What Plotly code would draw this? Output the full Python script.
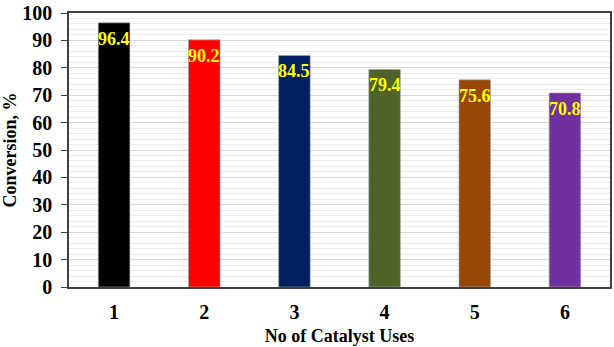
import plotly.graph_objects as go

categories = ["1", "2", "3", "4", "5", "6"]
values = [96.4, 90.2, 84.5, 79.4, 75.6, 70.8]
colors = ["#000000", "#FF0000", "#002060", "#4F6228", "#974706", "#7030A0"]
labels = ["96.4", "90.2", "84.5", "79.4", "75.6", "70.8"]
y_ticks = [0, 10, 20, 30, 40, 50, 60, 70, 80, 90, 100]
y_ticktext = ["<b>%d</b>" % v for v in y_ticks]
x_ticktext = ["<b>%s</b>" % c for c in categories]

FONT = "Liberation Serif"

fig = go.Figure()
fig.add_trace(go.Bar(
    x=categories, y=values,
    marker=dict(color=colors, line=dict(color="#A6A6A6", width=0.6)),
    width=0.35,
    hoverinfo="x+y",
))

for i, (v, t) in enumerate(zip(values, labels)):
    fig.add_annotation(
        x=i, y=v, xref="x", yref="y", text="<b>%s</b>" % t, showarrow=False,
        yanchor="top", yshift=-4,
        font=dict(family=FONT, size=18, color="#FFFF00"),
    )

fig.update_layout(
    width=614, height=347,
    margin=dict(l=69, r=2, t=7, b=60),
    plot_bgcolor="white", paper_bgcolor="white",
    showlegend=False,
    font=dict(family=FONT, color="black"),
)
fig.update_xaxes(
    type="category",
    showline=True, linecolor="#404040", linewidth=1.5, mirror=True,
    ticks="", tickmode="array", tickvals=categories, ticktext=x_ticktext,
    tickfont=dict(family=FONT, size=20),
    title=dict(text="<b>No of Catalyst Uses</b>", font=dict(family=FONT, size=18), standoff=8),
    ticklabelstandoff=6,
)
fig.update_yaxes(
    range=[0, 100], tickmode="array", tickvals=y_ticks, ticktext=y_ticktext,
    showline=True, linecolor="#404040", linewidth=1.5, mirror=True,
    ticks="outside", ticklen=6, tickcolor="#404040",
    gridcolor="#D9D9D9", gridwidth=1,
    minor=dict(dtick=2, showgrid=True, gridcolor="#EDEDED", gridwidth=1),
    tickfont=dict(family=FONT, size=20),
    ticklabelstandoff=5,
    ticklabeloverflow="allow",
    title=dict(text="<b>Conversion, %</b>", font=dict(family=FONT, size=18), standoff=4),
    zeroline=False,
)

fig.write_html("out.html")
